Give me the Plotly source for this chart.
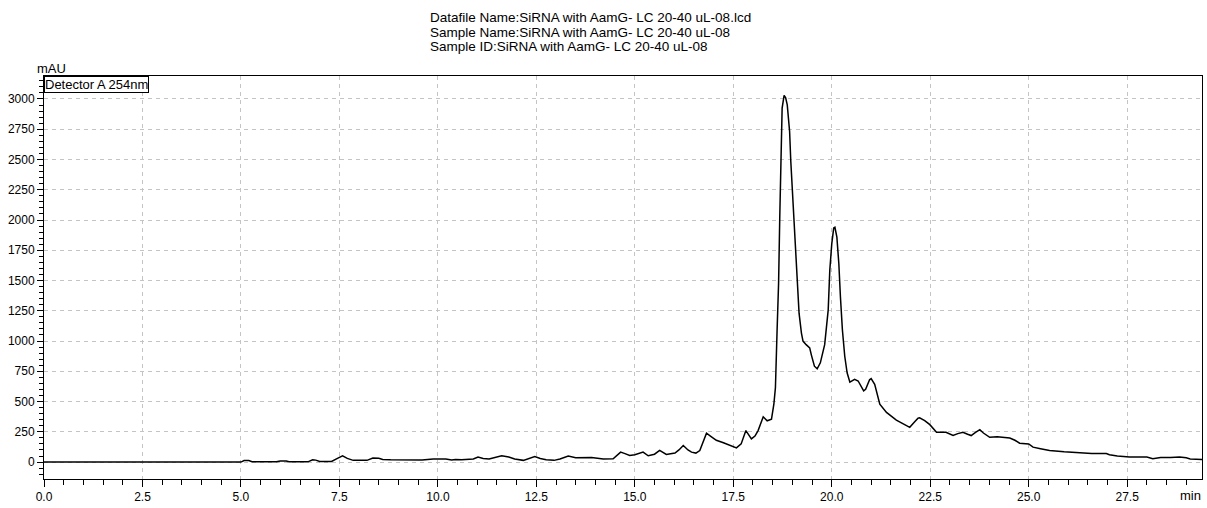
import plotly.graph_objects as go

# Retention time (min) and detector response (mAU), Detector A 254nm
time_min = [
    0.0, 5.0, 5.08, 5.2, 5.28, 5.9, 6.0, 6.15, 6.22, 6.7, 6.82, 6.9, 7.0, 7.3,
    7.45, 7.58, 7.7, 7.85, 8.2, 8.35, 8.5, 8.6, 8.8, 9.3, 9.45, 9.6, 9.88,
    10.2, 10.35, 10.45, 10.6, 10.9, 11.02, 11.15, 11.3, 11.5, 11.62, 11.8,
    11.95, 12.17, 12.35, 12.46, 12.6, 12.75, 12.95, 13.1, 13.31, 13.5, 13.9,
    14.05, 14.2, 14.45, 14.55, 14.64, 14.75, 14.87, 15.0, 15.21, 15.34, 15.5,
    15.63, 15.8, 16.02, 16.12, 16.23, 16.35, 16.44, 16.55, 16.65, 16.75,
    16.82, 16.92, 17.07, 17.25, 17.41, 17.58, 17.7, 17.82, 17.96, 18.05,
    18.13, 18.26, 18.36, 18.47, 18.53, 18.57, 18.61, 18.65, 18.68, 18.71,
    18.74, 18.79, 18.83, 18.87, 18.93, 18.96, 19.0, 19.04, 19.08, 19.13,
    19.17, 19.23, 19.27, 19.35, 19.44, 19.48, 19.56, 19.63, 19.71, 19.82,
    19.91, 19.95, 20.0, 20.05, 20.08, 20.13, 20.18, 20.22, 20.27, 20.33,
    20.39, 20.46, 20.58, 20.67, 20.81, 20.86, 20.96, 21.0, 21.09, 21.22,
    21.39, 21.64, 21.9, 21.98, 22.1, 22.19, 22.23, 22.36, 22.49, 22.66, 22.9,
    23.08, 23.2, 23.33, 23.45, 23.54, 23.65, 23.76, 23.85, 24.01, 24.2,
    24.35, 24.52, 24.65, 24.77, 25.0, 25.11, 25.3, 25.53, 25.9, 26.29, 26.6,
    26.85, 26.97, 27.05, 27.25, 27.56, 28.0, 28.15, 28.35, 28.6, 28.83, 29.0,
    29.1, 29.4,
]
absorbance_mau = [
    0, 0, 12, 12, 2, 2, 9, 9, 2, 2, 18, 16, 5, 5,
    30, 52, 30, 14, 14, 33, 31, 22, 19, 19, 22, 18, 25,
    25, 18, 22, 20, 25, 41, 30, 26, 45, 52, 42,
    25, 14, 35, 46, 30, 19, 14, 25, 49, 36, 38,
    30, 25, 27, 55, 82, 70, 55, 60, 82, 52, 65,
    96, 63, 74, 100, 137, 100, 82, 74, 95, 180,
    238, 215, 180, 160, 137, 117, 150, 260, 191, 215,
    260, 374, 341, 355, 478, 615, 1066, 1475, 2022, 2568,
    2924, 3030, 3010, 2951, 2732, 2486, 2240, 1967, 1694, 1475,
    1230, 1066, 1000, 970, 943, 888, 792, 770, 820, 970,
    1257, 1585, 1803, 1934, 1940, 1858, 1639, 1366, 1093, 874,
    738, 660, 683, 670, 588, 601, 680, 689, 642, 478,
    410, 347, 301, 287, 330, 363, 365, 342, 309, 246, 246,
    219, 235, 246, 230, 219, 245, 268, 240, 205, 210,
    205, 199, 180, 156, 150, 123, 110, 96, 85, 74, 70,
    70, 70, 60, 50, 41, 41, 27, 38, 38, 41, 35,
    26, 22,
]

header_lines = [
    "Datafile Name:SiRNA with AamG- LC 20-40 uL-08.lcd",
    "Sample Name:SiRNA with AamG- LC 20-40 uL-08",
    "Sample ID:SiRNA with AamG- LC 20-40 uL-08",
]
channel_label = "Detector A 254nm"
y_unit = "mAU"
x_unit = "min"

FONT = "Liberation Sans, Arial, sans-serif"
GRID = "#c4c4c4"

fig = go.Figure()
fig.add_trace(go.Scatter(
    x=time_min, y=absorbance_mau, mode="lines",
    line=dict(color="black", width=1.5), showlegend=False,
))

fig.update_layout(
    width=1207, height=508,
    margin=dict(l=44, r=4, t=76, b=26),
    paper_bgcolor="white", plot_bgcolor="white",
    font=dict(family=FONT, size=12, color="black"),
)

fig.update_xaxes(
    range=[0, 29.4], tick0=0, dtick=2.5, tickformat=".1f",
    showline=True, linecolor="black", linewidth=1, mirror=True,
    ticks="outside", ticklen=7, tickcolor="black", tickwidth=1,
    showgrid=True, gridcolor=GRID, griddash="4px,4px", gridwidth=1,
    zeroline=False,
    minor=dict(dtick=0.5, ticks="outside", ticklen=5, tickcolor="black",
               showgrid=False),
    tickfont=dict(size=12, color="black"),
)
fig.update_yaxes(
    range=[-140, 3190], tick0=0, dtick=250,
    showline=True, linecolor="black", linewidth=1, mirror=True,
    ticks="outside", ticklen=6, tickcolor="black", tickwidth=1,
    showgrid=True, gridcolor=GRID, griddash="4px,4px", gridwidth=1,
    zeroline=False,
    minor=dict(dtick=50, ticks="outside", ticklen=4, tickcolor="black",
               showgrid=False),
    tickfont=dict(size=12, color="black"),
)

# Header block above the plot
for i, line in enumerate(header_lines):
    fig.add_annotation(
        text=line, xref="paper", yref="paper", x=(428 - 44) / 1159,
        y=1, yshift=76 - 17.5 - 14.5 * i, xanchor="left", yanchor="middle",
        showarrow=False, font=dict(family=FONT, size=13.5, color="black"),
    )

# Channel label box at the top-left corner of the plot frame
fig.add_annotation(
    text=channel_label, xref="paper", yref="paper", x=0, y=1,
    xanchor="left", yanchor="top", showarrow=False,
    bordercolor="black", borderwidth=1, borderpad=0, bgcolor="white",
    font=dict(family=FONT, size=13, color="black"),
)

# Axis unit labels
fig.add_annotation(
    text=y_unit, xref="paper", yref="paper", x=0, y=1, xshift=7,
    yshift=-2, xanchor="center", yanchor="bottom", showarrow=False,
    font=dict(family=FONT, size=13, color="black"),
)
fig.add_annotation(
    text=x_unit, xref="paper", yref="paper", x=1, y=0, xshift=1,
    yshift=-16, xanchor="right", yanchor="middle", showarrow=False,
    font=dict(family=FONT, size=13, color="black"),
)

fig.write_html("out.html")
